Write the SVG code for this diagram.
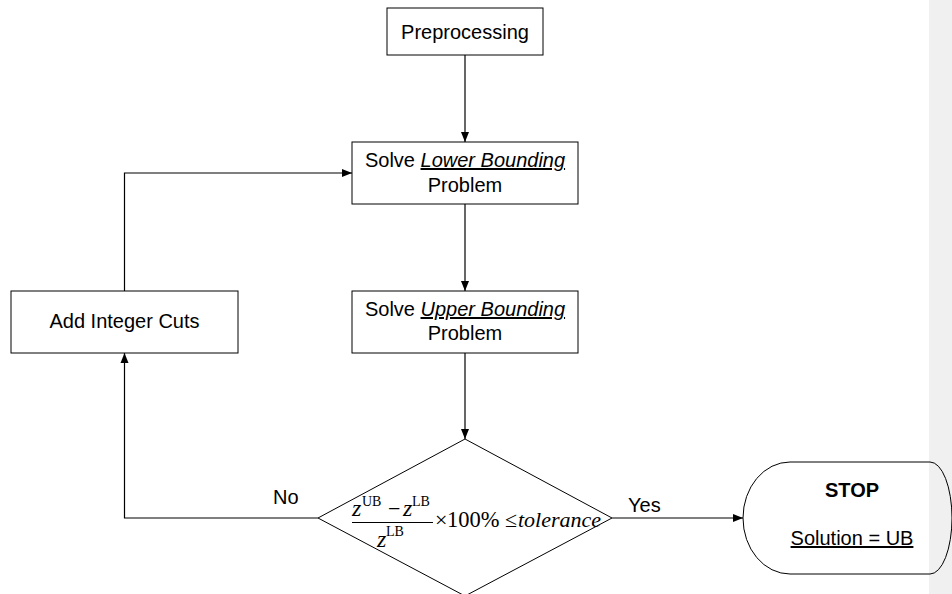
<svg xmlns="http://www.w3.org/2000/svg" width="952" height="594" viewBox="0 0 952 594">
  <defs>
    <marker id="arr" viewBox="0 0 10 10" refX="10" refY="5" markerWidth="10" markerHeight="10" markerUnits="userSpaceOnUse" orient="auto">
      <path d="M0,1 L10,5 L0,9 Z" fill="#000"/>
    </marker>
    <style>
      .box { fill: #fff; stroke: #000; stroke-width: 1; }
      .lbl { font-family: "Liberation Sans", Arial, sans-serif; font-size: 20px; fill: #000; }
      .mid { text-anchor: middle; }
      .conn { fill: none; stroke: #000; stroke-width: 1.2; marker-end: url(#arr); }
      .math { font-family: "Liberation Serif", "Times New Roman", serif; fill: #000; }
      .zi { font-size: 24px; font-style: italic; }
      .sup { font-size: 14px; }
    </style>
  </defs>
  <rect x="929" y="0" width="23" height="594" fill="#f0f0f0"/>

  <g id="connectors">
    <path class="conn" d="M465,55 L465,142"/>
    <path class="conn" d="M465,204 L465,291"/>
    <path class="conn" d="M465,353 L465,439"/>
    <path class="conn" d="M124.5,291 L124.5,173 L352,173"/>
    <path class="conn" d="M318,518 L124.5,518 L124.5,353"/>
    <path class="conn" d="M612,518 L743,518"/>
    <text class="lbl" x="273" y="504">No</text>
    <text class="lbl" x="628" y="512">Yes</text>
  </g>

  <g id="preprocessing">
    <rect class="box" x="387" y="8" width="156" height="47"/>
    <text class="lbl mid" x="465" y="39">Preprocessing</text>
  </g>

  <g id="lower">
    <rect class="box" x="352" y="142" width="226" height="62"/>
    <text class="lbl mid" x="465" y="167">Solve <tspan font-style="italic" text-decoration="underline">Lower Bounding</tspan></text>
    <text class="lbl mid" x="465" y="192">Problem</text>
  </g>

  <g id="upper">
    <rect class="box" x="352" y="291" width="226" height="62"/>
    <text class="lbl mid" x="465" y="316">Solve <tspan font-style="italic" text-decoration="underline">Upper Bounding</tspan></text>
    <text class="lbl mid" x="465" y="340">Problem</text>
  </g>

  <g id="cuts">
    <rect class="box" x="11" y="291" width="227" height="62"/>
    <text class="lbl mid" x="124.5" y="328">Add Integer Cuts</text>
  </g>

  <g id="decision">
    <polygon points="465,439 612,518 465,596 318,518" fill="#fff" stroke="#000" stroke-width="1"/>
    <text class="math zi" x="352" y="516">z</text>
    <text class="math sup" x="362" y="506">UB</text>
    <text class="math" font-size="22" x="388" y="516">−</text>
    <text class="math zi" x="403" y="516">z</text>
    <text class="math sup" x="412" y="506">LB</text>
    <line x1="352" y1="522.5" x2="433" y2="522.5" stroke="#000" stroke-width="1"/>
    <text class="math zi" x="377" y="547">z</text>
    <text class="math sup" x="386" y="536">LB</text>
    <text class="math" font-size="22" x="435" y="527">×</text>
    <text class="math" font-size="22.5" x="447" y="527">100%</text>
    <text class="math" font-size="22" x="505" y="527">≤</text>
    <text class="math" font-size="22" font-style="italic" x="518" y="527">tolerance</text>
  </g>

  <g id="stop">
    <path d="M790,462 L930,462 A22,56 0 0 1 930,574 L790,574 A47,56 0 0 1 790,462 Z" fill="none" stroke="#000" stroke-width="1"/>
    <text class="lbl mid" x="852" y="497" font-weight="bold">STOP</text>
    <text class="lbl mid" x="852" y="545" text-decoration="underline">Solution = UB</text>
  </g>
</svg>
